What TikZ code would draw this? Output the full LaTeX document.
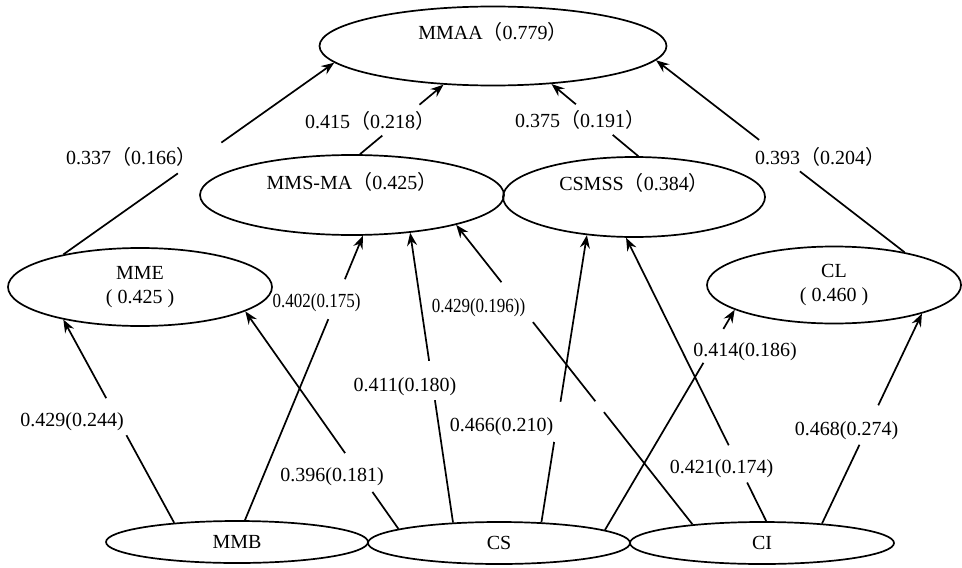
\documentclass[tikz,border=0pt]{standalone}
\usepackage{fontspec}
\setmainfont{Liberation Serif}
\newfontfamily\cjkfont{Noto Sans CJK SC}
\newfontfamily\narrowfont[FakeStretch=0.85]{Liberation Serif}
\newcommand{\zlp}{{\cjkfont （}}
\newcommand{\zrp}{{\cjkfont ）}}
\usetikzlibrary{shapes.geometric, arrows.meta}

\begin{document}
\begin{tikzpicture}[x=0.5pt, y=-0.5pt,
		latent/.style={ellipse, draw=black, line width=0.85pt, inner sep=0pt, align=center},
		conn/.style={line width=0.85pt, -{Stealth[length=6.5pt, width=5pt, inset=2.2pt]}},
		cut/.style={fill=white, sloped, inner sep=0pt, minimum height=4pt},
		coef/.style={inner sep=0pt}]
		\useasboundingbox (0,0) rectangle (962,567);
		% latent variables
		\node[latent, minimum width=173.5pt, minimum height=39.5pt,
			label={[yshift=7pt]center:MMAA\zlp 0.779\zrp}] (MMAA) at (493,46) {};
		\node[latent, minimum width=152pt, minimum height=40pt,
			label={[yshift=6.5pt]center:MMS-MA\zlp 0.425\zrp}] (MMSMA) at (352,195) {};
		\node[latent, minimum width=131pt, minimum height=40pt,
			label={[yshift=7pt]center:CSMSS\zlp 0.384\zrp}] (CSMSS) at (634,197) {};
		\node[latent, minimum width=132pt, minimum height=39pt] (MME) at (140,287) {MME\\( 0.425 )};
		\node[latent, minimum width=127pt, minimum height=38.5pt] (CL) at (834,285) {CL\\( 0.460 )};
		\node[latent, minimum width=131pt, minimum height=21pt] (MMB) at (237,542) {MMB};
		\node[latent, minimum width=131pt, minimum height=21pt] (CS) at (499,543) {CS};
		\node[latent, minimum width=132pt, minimum height=21pt] (CI) at (762,543) {CI};
		% paths
		\draw[conn] (MME.157.1) -- node[cut, pos=0.503, minimum width=26.5pt] {} (MMAA.-174.3);
		\draw[conn] (MMSMA.79) -- node[cut, pos=0.49, minimum width=24pt] {} (MMAA.-142.6);
		\draw[conn] (CSMSS.84.6) -- node[cut, pos=0.507, minimum width=23.8pt] {} (MMAA.-33.9);
		\draw[conn] (CL.25.3) -- node[cut, pos=0.503, minimum width=25.6pt] {} (MMAA.-5.6);
		\draw[conn] (MMB.163.1) -- node[cut, pos=0.522, minimum width=21pt] {} (MME.-157.6);
		\draw[conn] (MMB.70) -- node[cut, pos=0.777, minimum width=21.5pt] {} (MMSMA.-75.3);
		\draw[conn] (CS.172) -- node[cut, pos=0.259, minimum width=23.6pt] {} (MME.-13.5);
		\draw[conn] (CS.156.6) -- node[cut, pos=0.49, minimum width=19.7pt] {} (MMSMA.-33.7);
		\draw[conn] (CS.26.6) -- node[cut, pos=0.35, minimum width=20.2pt] {} (CSMSS.-141.7);
		\draw[conn] (CS.7.4) -- node[cut, pos=0.836, minimum width=19.5pt] {} (CL.-166.2);
		\draw[conn] (CI.165.3) -- node[cut, pos=0.393, minimum width=6.8pt] {}
			node[cut, pos=0.742, minimum width=25.3pt] {} (MMSMA.-16.5);
		\draw[conn] (CI.79) -- node[cut, pos=0.202, minimum width=20.6pt] {} (CSMSS.-101.3);
		\draw[conn] (CI.18.4) -- node[cut, pos=0.469, minimum width=21.7pt] {} (CL.-18.6);
		% coefficients
		\node[coef] (c1) at (131,157) {0.337\zlp 0.166\zrp};
		\node[coef] (c2) at (370,121) {0.415\zlp 0.218\zrp};
		\node[coef] (c3) at (580,120) {0.375\zlp 0.191\zrp};
		\node[coef] (c4) at (820,157) {0.393\zlp 0.204\zrp};
		\node[coef] (c5) at (72,422) {0.429(0.244)};
		\node[coef, font=\narrowfont] (c6) at (316.5,303) {0.402(0.175)};
		\node[coef] (c7) at (332,477) {0.396(0.181)};
		\node[coef] (c8) at (405,387) {0.411(0.180)};
		\node[coef] (c9) at (501.5,427) {0.466(0.210)};
		\node[coef] (c10) at (745,352) {0.414(0.186)};
		\node[coef, font=\narrowfont] (c11) at (478.5,308) {0.429(0.196))};
		\node[coef] (c12) at (721.5,469) {0.421(0.174)};
		\node[coef] (c13) at (846.5,431) {0.468(0.274)};
\end{tikzpicture}
\end{document}
